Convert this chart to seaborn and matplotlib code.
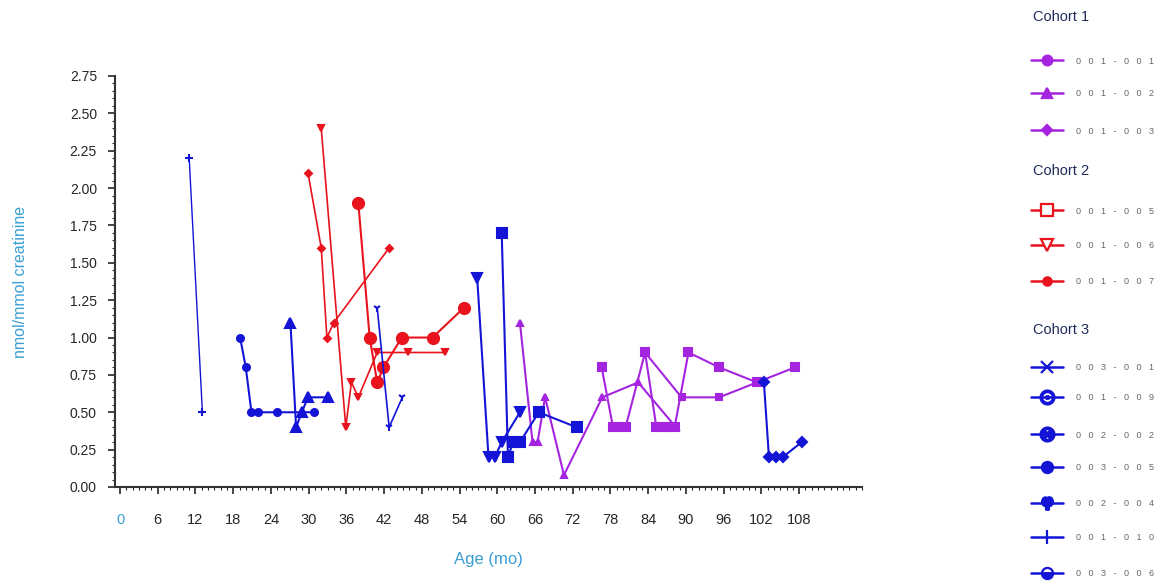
import matplotlib
matplotlib.use("Agg")
import matplotlib.pyplot as plt
from matplotlib.ticker import MultipleLocator
import seaborn as sns

sns.set_style("ticks")
plt.rcParams["font.family"] = ["Liberation Sans", "DejaVu Sans"]

purple = "#a524e0"
red = "#e8131c"
blue = "#1414d6"
axis_blue = "#3a9fd4"

# Cohort 1
age_001_001 = [76.6, 78.4, 79.4, 80.4, 83.5, 85.3, 86.3, 87.2, 88.2, 90.4, 95.3, 101.3, 107.3]
val_001_001 = [0.8, 0.4, 0.4, 0.4, 0.9, 0.4, 0.4, 0.4, 0.4, 0.9, 0.8, 0.7, 0.8]
age_001_002 = [63.6, 65.6, 66.4, 67.6, 70.6, 76.7, 82.4, 88.4]
val_001_002 = [1.1, 0.3, 0.3, 0.6, 0.08, 0.6, 0.7, 0.4]
age_001_003 = [83.5, 89.3, 95.3, 101.3]
val_001_003 = [0.9, 0.6, 0.6, 0.7]

# Cohort 2
age_001_005 = [29.9, 32.0, 32.9, 34.0, 42.8]
val_001_005 = [2.1, 1.6, 1.0, 1.1, 1.6]
age_001_006 = [32.0, 35.9, 36.8, 37.9, 40.9, 45.8, 51.7]
val_001_006 = [2.4, 0.4, 0.7, 0.6, 0.9, 0.9, 0.9]
age_001_007 = [37.9, 39.7, 40.9, 41.9, 44.8, 49.7, 54.7]
val_001_007 = [1.9, 1.0, 0.7, 0.8, 1.0, 1.0, 1.2]

# Cohort 3
age_003_001 = [56.8, 58.6, 59.6, 60.7, 63.6]
val_003_001 = [1.4, 0.2, 0.2, 0.3, 0.5]
age_001_009 = [19.1, 20.0, 20.9, 21.9, 24.9, 30.9]
val_001_009 = [1.0, 0.8, 0.5, 0.5, 0.5, 0.5]
age_002_002 = [27.1, 28.0, 28.9, 29.9, 33.0]
val_002_002 = [1.1, 0.4, 0.5, 0.6, 0.6]
age_003_005 = [60.7, 61.7, 62.5, 63.6, 66.6, 72.6]
val_003_005 = [1.7, 0.2, 0.3, 0.3, 0.5, 0.4]
age_002_004 = [40.9, 42.8, 44.9]
val_002_004 = [1.2, 0.4, 0.6]
age_001_010 = [11.0, 13.1]
val_001_010 = [2.2, 0.5]
age_003_006 = [102.4, 103.2, 104.3, 105.4, 108.4]
val_003_006 = [0.7, 0.2, 0.2, 0.2, 0.3]

x_ticks = list(range(0, 109, 6))
y_ticks = [0.0, 0.25, 0.5, 0.75, 1.0, 1.25, 1.5, 1.75, 2.0, 2.25, 2.5, 2.75]

# (id, ages, values, colour, plot marker, size, line width)
series = [
    ("001-001", age_001_001, val_001_001, purple, "s", 5.5, 1.5),
    ("001-002", age_001_002, val_001_002, purple, "^", 5, 1.5),
    ("001-003", age_001_003, val_001_003, purple, "s", 5, 1.5),
    ("001-005", age_001_005, val_001_005, red, "D", 3.5, 1.2),
    ("001-006", age_001_006, val_001_006, red, "v", 5, 1.2),
    ("001-007", age_001_007, val_001_007, red, "o", 8, 1.5),
    ("003-001", age_003_001, val_003_001, blue, "v", 7, 1.5),
    ("001-009", age_001_009, val_001_009, blue, "o", 5, 1.5),
    ("002-002", age_002_002, val_002_002, blue, "^", 7, 1.5),
    ("003-005", age_003_005, val_003_005, blue, "s", 7, 1.5),
    ("002-004", age_002_004, val_002_004, blue, "1", 6, 1.2),
    ("001-010", age_001_010, val_001_010, blue, "+", 6, 1.0),
    ("003-006", age_003_006, val_003_006, blue, "D", 5, 1.5),
]

fig = plt.figure(figsize=(11.73, 5.87), dpi=100)
ax = fig.add_axes([115 / 1173, 1 - 487 / 587, (862 - 115) / 1173, (487 - 76) / 587])

for sid, ages, vals, col, mk, ms, lw in series:
    sns.lineplot(x=ages, y=vals, ax=ax, color=col, marker=mk, markersize=ms,
                 markeredgecolor=col, markeredgewidth=1.5, linewidth=lw,
                 sort=False, estimator=None, legend=False)

ax.set_xlim(-0.8, 118)
ax.set_ylim(0, 2.75)
ax.set_xticks(x_ticks)
ax.set_yticks(y_ticks)
ax.set_yticklabels([f"{v:.2f}" for v in y_ticks])
ax.xaxis.set_minor_locator(MultipleLocator(1))
ax.yaxis.set_minor_locator(MultipleLocator(0.05))
ax.tick_params(axis="x", which="major", length=5, width=1.2, pad=14, labelsize=10.5)
ax.tick_params(axis="y", which="major", length=5, width=1.2, pad=8, labelsize=10)
ax.tick_params(which="minor", length=2, width=0.8)
ax.get_xticklabels()[0].set_color(axis_blue)
sns.despine(ax=ax)
for side in ["left", "bottom"]:
    ax.spines[side].set_linewidth(1.5)
    ax.spines[side].set_color("#333333")

ax.set_xlabel("Age (mo)", color=axis_blue, fontsize=12, labelpad=18)
ax.set_ylabel("nmol/mmol creatinine", color=axis_blue, fontsize=11.5, labelpad=30)

# legend panel drawn at the right, in figure pixels
lax = fig.add_axes([0, 0, 1, 1])
lax.set_xlim(0, 1173)
lax.set_ylim(587, 0)
lax.axis("off")
lax.patch.set_alpha(0)

legend_marks = {
    "001-001": dict(marker="o", ms=7),
    "001-002": dict(marker="^", ms=7),
    "001-003": dict(marker="D", ms=5),
    "001-005": dict(marker="s", ms=8, mfc="white"),
    "001-006": dict(marker="v", ms=9, mfc="white"),
    "001-007": dict(marker="o", ms=6),
    "003-001": dict(marker="x", ms=8),
    "001-009": dict(marker="$\\odot$", ms=10),
    "002-002": dict(marker="$\\otimes$", ms=10),
    "003-005": dict(marker="o", ms=8),
    "002-004": dict(marker="$\\mathbf{\\varphi}$", ms=9),
    "001-010": dict(marker="|", ms=10),
    "003-006": dict(marker="o", ms=8, fillstyle="bottom"),
}

groups = [
    ("Cohort 1", 17, [("001-001", 60), ("001-002", 93), ("001-003", 130)], purple),
    ("Cohort 2", 171, [("001-005", 210), ("001-006", 245), ("001-007", 281)], red),
    ("Cohort 3", 330, [("003-001", 367), ("001-009", 397), ("002-002", 434),
                       ("003-005", 467), ("002-004", 503), ("001-010", 537),
                       ("003-006", 573)], blue),
]
for title, ty, entries, col in groups:
    lax.text(1033, ty, title, color="#1f2a5c", fontsize=10.5, va="center")
    for sid, y in entries:
        lax.plot([1031, 1063], [y, y], color=col, lw=1.8)
        lm = legend_marks[sid]
        lax.plot([1047], [y], color=col, mec=col, mew=1.6,
                 mfc=lm.get("mfc", col), marker=lm["marker"], ms=lm["ms"],
                 fillstyle=lm.get("fillstyle", "full"))
        lax.text(1076, y + 1, "   ".join(sid), color="#666666", fontsize=6.5, va="center")

fig.savefig("out.png", dpi=100)
